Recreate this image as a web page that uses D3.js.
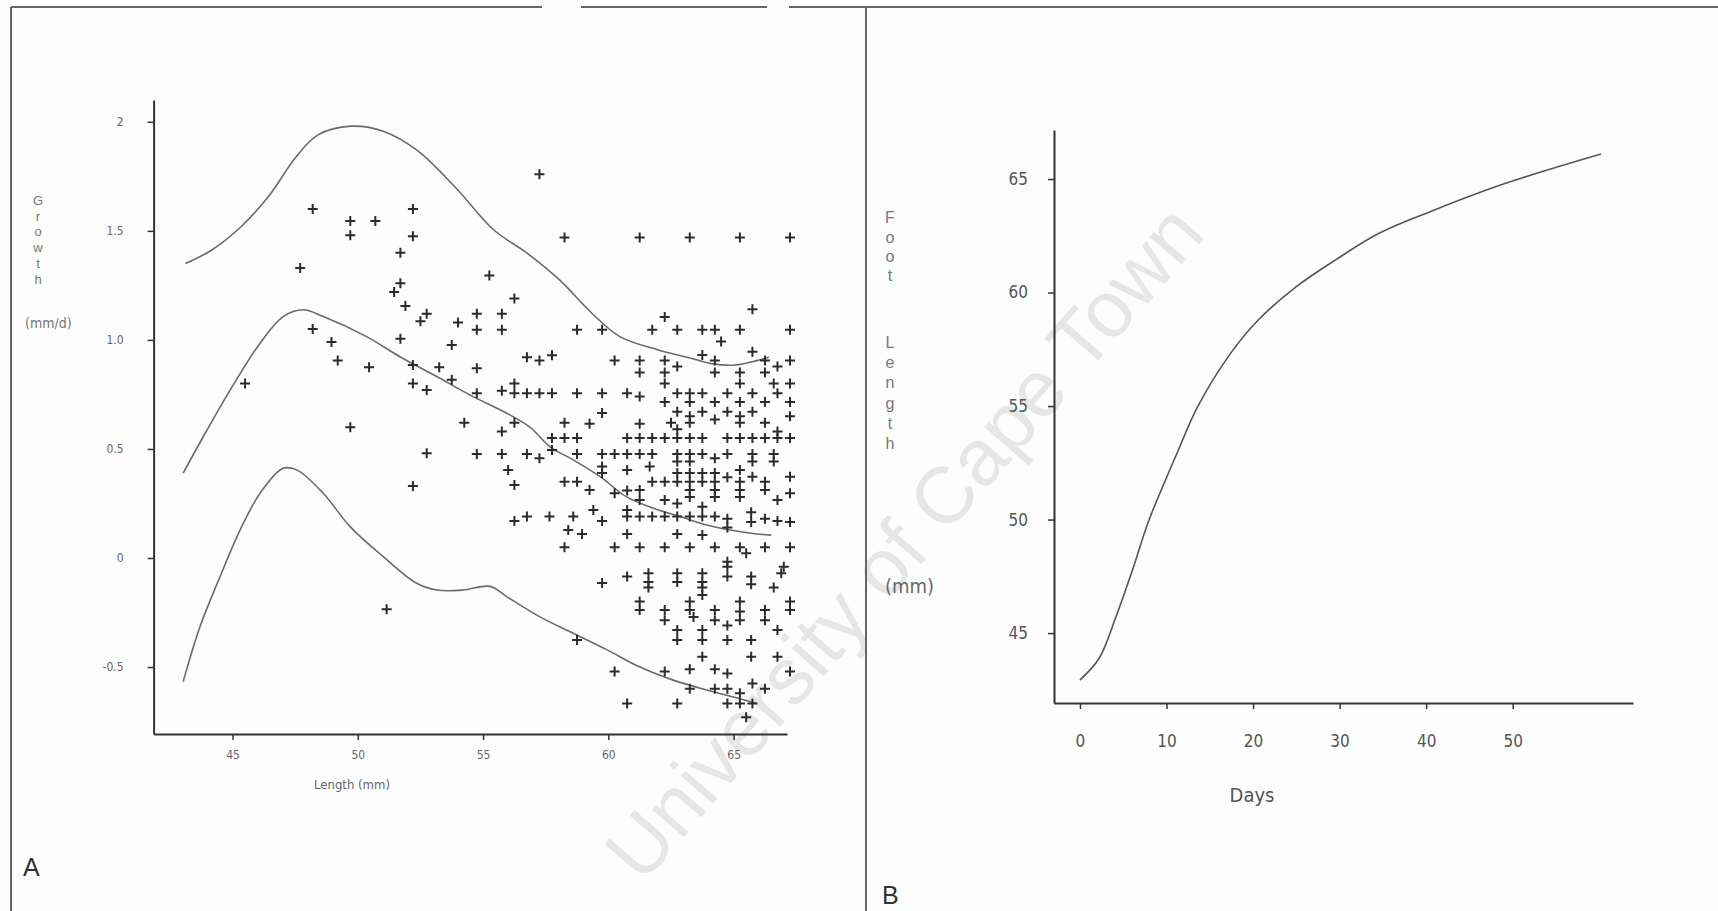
<!DOCTYPE html>
<html>
<head>
<meta charset="utf-8">
<style>
  html, body { margin: 0; background: #fff; }
  svg { display: block; }
</style>
</head>
<body>
<svg></svg>
<script src="https://cdn.jsdelivr.net/npm/d3@7/dist/d3.min.js"></script>
<script>
/* global d3 */
'use strict'

const width = 1718
const height = 911
const narrow = '"Liberation Sans Narrow", "DejaVu Sans Condensed", "Liberation Sans", Arial, sans-serif'

// ---- panel A : growth against length ----
const lengthTicks = [45, 50, 55, 60, 65]
const lengthTickLabels = ['45', '50', '55', '60', '65']
const growthTicks = [2, 1.5, 1.0, 0.5, 0, -0.5]
const growthTickLabels = ['2', '1.5', '1.0', '0.5', '0', '-0.5']

// [length (mm), growth (mm/d)]
const growthPoints = [
  [45.5, 0.80], [47.7, 1.33], [48.2, 1.60], [48.2, 1.05], [48.95, 0.99], [49.2, 0.905],
  [49.7, 1.545], [49.7, 1.48], [49.7, 0.60], [50.7, 1.545], [50.45, 0.875], [51.7, 1.40],
  [51.7, 1.26], [51.45, 1.22], [51.9, 1.155], [51.7, 1.005], [51.15, -0.235], [52.2, 1.60],
  [52.2, 1.475], [52.75, 1.12], [52.5, 1.085], [52.2, 0.885], [52.2, 0.80], [52.75, 0.77],
  [52.75, 0.48], [52.2, 0.33], [53.25, 0.875], [53.75, 0.977], [53.75, 0.817],
  [57.25, 1.76],
  [58.25, 1.47], [61.25, 1.47], [63.25, 1.47], [65.25, 1.47], [67.25, 1.47],
  [55.25, 1.295], [56.25, 1.19], [65.75, 1.14], [54.75, 1.12], [55.75, 1.12], [54.0, 1.08], [62.25, 1.105],
  [54.75, 1.046], [55.75, 1.046], [58.75, 1.046], [59.75, 1.046], [61.75, 1.046], [62.75, 1.046],
  [63.75, 1.046], [64.25, 1.046], [65.25, 1.046], [67.25, 1.046],
  [64.5, 0.993], [65.75, 0.946], [63.75, 0.931],
  [56.75, 0.92], [57.25, 0.905], [57.75, 0.93], [60.25, 0.905],
  [61.25, 0.905], [61.25, 0.85], [62.25, 0.905], [62.25, 0.85], [62.25, 0.80], [62.75, 0.878],
  [64.25, 0.905], [64.25, 0.85], [66.25, 0.905], [66.75, 0.878], [67.25, 0.905],
  [65.25, 0.85], [65.25, 0.80], [66.25, 0.85], [66.6, 0.80], [67.25, 0.80],
  [54.75, 0.87],
  [54.75, 0.755], [55.75, 0.767], [56.25, 0.80], [56.25, 0.755], [56.75, 0.755], [57.25, 0.755],
  [57.75, 0.755], [58.75, 0.755], [59.75, 0.755], [60.75, 0.755], [61.25, 0.74], [62.25, 0.715],
  [62.75, 0.755], [63.25, 0.755], [63.75, 0.755],
  [62.75, 0.67], [63.25, 0.715], [63.25, 0.65], [63.75, 0.67], [64.25, 0.715], [64.75, 0.755],
  [64.75, 0.67], [65.25, 0.715], [65.25, 0.65], [65.75, 0.755], [65.75, 0.67], [66.25, 0.715],
  [66.75, 0.755], [67.25, 0.715], [67.25, 0.65],
  [59.75, 0.665], [54.25, 0.62], [56.25, 0.62], [55.75, 0.58], [58.25, 0.62], [59.25, 0.615],
  [61.25, 0.615], [62.5, 0.62], [62.75, 0.59], [63.25, 0.62], [64.25, 0.635], [65.25, 0.62],
  [66.25, 0.62], [66.75, 0.58],
  [57.75, 0.55], [58.25, 0.55], [58.75, 0.55], [60.75, 0.55], [61.25, 0.55], [61.75, 0.55],
  [62.25, 0.55], [62.75, 0.55], [63.25, 0.55], [63.75, 0.55], [64.75, 0.55], [65.25, 0.55],
  [65.75, 0.55], [66.25, 0.55], [66.75, 0.55], [67.25, 0.55],
  [54.75, 0.477], [55.75, 0.477], [56.75, 0.477], [57.25, 0.457], [57.75, 0.495], [58.75, 0.477],
  [59.75, 0.477], [60.25, 0.477], [60.75, 0.477], [61.25, 0.477], [61.75, 0.477], [62.75, 0.477],
  [63.25, 0.477], [63.75, 0.477], [64.25, 0.457], [64.75, 0.477], [65.75, 0.477], [66.6, 0.477],
  [59.75, 0.42], [59.75, 0.39], [60.75, 0.404], [61.65, 0.42], [62.75, 0.442], [63.25, 0.442],
  [62.75, 0.39], [63.25, 0.39], [63.75, 0.39], [64.25, 0.39], [65.25, 0.404], [65.75, 0.442],
  [66.6, 0.442], [56.0, 0.404], [56.25, 0.335],
  [58.25, 0.35], [58.75, 0.35], [59.25, 0.312], [60.25, 0.297], [60.75, 0.31], [61.25, 0.312],
  [61.75, 0.35], [62.25, 0.35], [62.75, 0.35], [63.25, 0.35], [63.75, 0.35], [64.25, 0.35],
  [64.75, 0.37], [65.25, 0.35], [65.75, 0.372], [66.25, 0.35], [67.25, 0.372], [67.25, 0.297],
  [61.25, 0.266], [62.25, 0.266], [62.75, 0.25], [63.25, 0.312], [63.25, 0.28], [63.75, 0.235],
  [64.25, 0.312], [64.25, 0.28], [65.25, 0.312], [65.25, 0.28], [66.25, 0.312], [66.75, 0.266],
  [56.25, 0.17], [56.75, 0.19], [57.65, 0.19], [58.6, 0.19], [59.4, 0.22], [59.75, 0.17],
  [60.75, 0.19], [60.75, 0.22], [61.25, 0.19], [61.75, 0.19], [62.25, 0.19], [62.75, 0.19],
  [63.25, 0.19], [63.75, 0.19], [64.25, 0.19], [64.75, 0.18], [65.7, 0.21], [66.25, 0.18],
  [66.75, 0.17], [67.25, 0.165],
  [58.4, 0.128], [58.95, 0.11], [60.75, 0.11], [62.75, 0.11], [63.75, 0.105], [64.75, 0.14], [65.7, 0.165],
  [58.25, 0.049], [60.25, 0.049], [61.25, 0.049], [62.25, 0.049], [63.25, 0.049], [64.25, 0.049],
  [65.25, 0.049], [65.5, 0.022], [66.25, 0.049], [67.25, 0.049],
  [64.75, -0.017],
  [59.75, -0.115], [60.75, -0.085], [61.6, -0.07], [61.6, -0.11], [61.6, -0.135], [62.75, -0.07],
  [62.75, -0.11], [63.75, -0.07], [63.75, -0.11], [63.75, -0.135], [63.75, -0.17], [64.75, -0.04],
  [64.75, -0.085], [65.7, -0.085], [65.7, -0.12], [66.6, -0.135], [66.9, -0.07], [67.0, -0.04],
  [61.25, -0.2], [61.25, -0.238], [62.25, -0.238], [62.25, -0.285], [63.25, -0.2], [63.25, -0.238],
  [63.4, -0.27], [64.25, -0.238], [64.25, -0.285], [64.75, -0.31], [65.25, -0.2], [65.25, -0.245],
  [65.25, -0.285], [66.25, -0.238], [66.25, -0.285], [67.25, -0.2], [67.25, -0.238], [66.75, -0.33],
  [62.75, -0.33], [62.75, -0.376], [63.75, -0.33], [63.75, -0.376], [64.75, -0.376], [65.7, -0.376],
  [65.7, -0.453], [66.75, -0.453], [63.75, -0.453],
  [58.75, -0.376],
  [60.25, -0.52], [62.25, -0.52], [63.25, -0.51], [64.25, -0.51], [64.75, -0.53], [67.25, -0.52],
  [63.25, -0.6], [64.25, -0.6], [64.75, -0.6], [65.25, -0.62], [65.75, -0.575], [66.25, -0.6],
  [60.75, -0.667], [62.75, -0.667], [64.75, -0.667], [65.25, -0.667], [65.75, -0.667],
  [65.5, -0.73]
]

// fitted band lines [length, growth]
const upperBand = [
  [43.12, 1.35], [44.14, 1.41], [45.35, 1.52], [46.45, 1.66], [47.54, 1.84], [48.41, 1.94],
  [49.73, 1.98], [51.04, 1.956], [52.36, 1.87], [53.89, 1.70], [55.42, 1.505], [56.73, 1.40],
  [58.05, 1.275], [59.36, 1.12], [60.46, 1.015], [61.99, 0.954], [63.3, 0.916], [64.18, 0.89],
  [65.06, 0.885], [65.93, 0.905], [66.4, 0.92]
]
const middleBand = [
  [43.03, 0.389], [43.83, 0.556], [45.03, 0.794], [46.1, 0.985], [47.02, 1.107], [47.82, 1.138],
  [48.62, 1.107], [50.35, 1.015], [51.68, 0.923], [53.15, 0.832], [54.6, 0.74], [55.94, 0.664],
  [56.87, 0.60], [57.67, 0.51], [58.6, 0.45], [59.67, 0.373], [60.73, 0.28], [61.8, 0.228],
  [62.86, 0.19], [63.93, 0.151], [64.86, 0.128], [65.92, 0.11], [66.5, 0.105]
]
const lowerBand = [
  [43.03, -0.567], [43.7, -0.315], [44.5, -0.086], [45.3, 0.128], [46.1, 0.297], [47.02, 0.411],
  [47.56, 0.404], [48.62, 0.297], [49.69, 0.144], [51.02, 0.006], [52.35, -0.116], [53.15, -0.147],
  [54.2, -0.147], [55.28, -0.13], [55.94, -0.177], [57.27, -0.27], [58.6, -0.345], [59.93, -0.42],
  [61.26, -0.5], [62.59, -0.56], [63.93, -0.605], [65.25, -0.645], [65.92, -0.667]
]

// ---- panel B : foot length against days ----
const dayTicks = [0, 10, 20, 30, 40, 50]
const dayTickLabels = ['0', '10', '20', '30', '40', '50']
const footTicks = [65, 60, 55, 50, 45]
const footTickLabels = ['65', '60', '55', '50', '45']
const curveDays = [0, 2.2, 4.1, 6.0, 7.9, 9.8, 11.3, 13.6, 17.4, 20.6, 25.0, 29.5, 34.5, 40.9, 49.1, 60.2]
const curveFoot = [42.93, 43.88, 45.65, 47.7, 49.9, 51.67, 53.0, 54.97, 57.32, 58.79, 60.26, 61.43, 62.6, 63.63, 64.8, 66.1]

const svg = d3.select('svg')
  .attr('width', width)
  .attr('height', height)
  .attr('font-family', '"Liberation Sans", Arial, sans-serif')

svg.append('rect')
  .attr('width', width)
  .attr('height', height)
  .attr('fill', '#fdfdfd')

// the faint watermark across the scan
svg.append('text')
  .attr('transform', 'translate(904,542) rotate(-49)')
  .attr('text-anchor', 'middle')
  .attr('dominant-baseline', 'central')
  .attr('font-size', 80)
  .attr('fill', '#e6e6e6')
  .text('University of Cape Town')

drawFrame()
drawPanelA()
drawPanelB()

function drawFrame () {
  const frame = svg.append('g')
    .attr('stroke', '#666')
    .attr('stroke-width', 2)
  ;[[11, 542], [581, 767], [789, 1718]].forEach(([a, b]) => {
    frame.append('line').attr('x1', a).attr('x2', b).attr('y1', 7).attr('y2', 7)
  })
  frame.append('line').attr('x1', 11).attr('x2', 11).attr('y1', 7).attr('y2', height)
  frame.append('line').attr('x1', 866).attr('x2', 866).attr('y1', 7).attr('y2', height)
}

function styleAxis (g, size, color) {
  g.select('.domain').attr('stroke', '#333').attr('stroke-width', 2)
  g.selectAll('.tick line').attr('stroke', '#333').attr('stroke-width', 1.5)
  g.selectAll('.tick text')
    .attr('font-family', narrow)
    .attr('font-size', size)
    .attr('fill', color)
}

function stackedLetters (g, letters, x, ys, size) {
  g.selectAll(null)
    .data(letters)
    .enter().append('text')
    .attr('x', x)
    .attr('y', (d, i) => ys[i])
    .attr('text-anchor', 'middle')
    .attr('dominant-baseline', 'central')
    .attr('font-size', size)
    .attr('fill', '#777')
    .text(d => d)
}

function drawPanelA () {
  const x = d3.scaleLinear().domain([41.85, 67.13]).range([153.6, 787])
  const y = d3.scaleLinear().domain([-0.807, 2.1]).range([734, 100])
  const g = svg.append('g')

  g.append('g')
    .attr('transform', `translate(0,${y.range()[0]})`)
    .call(d3.axisBottom(x)
      .tickValues(lengthTicks)
      .tickFormat((d, i) => lengthTickLabels[i])
      .tickSize(6).tickSizeOuter(0).tickPadding(10))
    .call(a => styleAxis(a, 12, '#666'))

  g.append('g')
    .attr('transform', `translate(${x.range()[0]},0)`)
    .call(d3.axisLeft(y)
      .tickValues(growthTicks)
      .tickFormat((d, i) => growthTickLabels[i])
      .tickSize(6).tickSizeOuter(0).tickPadding(24))
    .call(a => styleAxis(a, 12, '#666'))

  const line = d3.line()
    .x(d => x(d[0]))
    .y(d => y(d[1]))
    .curve(d3.curveCatmullRom)

  g.selectAll('path.band')
    .data([upperBand, middleBand, lowerBand])
    .enter().append('path')
    .attr('class', 'band')
    .attr('d', line)
    .attr('fill', 'none')
    .attr('stroke', '#6a6a6a')
    .attr('stroke-width', 1.6)

  g.selectAll('path.pt')
    .data(growthPoints)
    .enter().append('path')
    .attr('class', 'pt')
    .attr('transform', d => `translate(${x(d[0])},${y(d[1])})`)
    .attr('d', 'M-5,0H5M0,-5V5')
    .attr('stroke', '#2b2b2b')
    .attr('stroke-width', 2)

  stackedLetters(g, ['G', 'r', 'o', 'w', 't', 'h'], 38, [200, 216, 231, 247, 263, 279], 13)

  g.append('text')
    .attr('x', 25)
    .attr('y', 323)
    .attr('dominant-baseline', 'central')
    .attr('font-family', narrow)
    .attr('font-size', 14)
    .attr('fill', '#777')
    .text('(mm/d)')

  g.append('text')
    .attr('x', 352)
    .attr('y', 784)
    .attr('text-anchor', 'middle')
    .attr('dominant-baseline', 'central')
    .attr('font-family', narrow)
    .attr('font-size', 13)
    .attr('fill', '#666')
    .text('Length (mm)')

  g.append('text')
    .attr('x', 23)
    .attr('y', 876)
    .attr('font-size', 25)
    .attr('fill', '#333')
    .text('A')
}

function drawPanelB () {
  const x = d3.scaleLinear().domain([-3, 63.9]).range([1054, 1633])
  const y = d3.scaleLinear().domain([41.92, 67.16]).range([703, 130])
  const g = svg.append('g')

  g.append('g')
    .attr('transform', `translate(0,${y.range()[0]})`)
    .call(d3.axisBottom(x)
      .tickValues(dayTicks)
      .tickFormat((d, i) => dayTickLabels[i])
      .tickSize(6).tickSizeOuter(0).tickPadding(26))
    .call(a => styleAxis(a, 17, '#555'))

  g.append('g')
    .attr('transform', `translate(${x.range()[0]},0)`)
    .call(d3.axisLeft(y)
      .tickValues(footTicks)
      .tickFormat((d, i) => footTickLabels[i])
      .tickSize(6).tickSizeOuter(0).tickPadding(20))
    .call(a => styleAxis(a, 17, '#555'))

  const line = d3.line()
    .x(d => x(d[0]))
    .y(d => y(d[1]))
    .curve(d3.curveCatmullRom)

  g.append('path')
    .datum(curveDays.map((d, i) => [d, curveFoot[i]]))
    .attr('d', line)
    .attr('fill', 'none')
    .attr('stroke', '#555')
    .attr('stroke-width', 1.6)

  stackedLetters(g, ['F', 'o', 'o', 't', 'L', 'e', 'n', 'g', 't', 'h'], 890,
    [217, 237, 256, 275, 342, 362, 382, 403, 423, 443], 16)

  g.append('text')
    .attr('x', 885)
    .attr('y', 586)
    .attr('dominant-baseline', 'central')
    .attr('font-family', narrow)
    .attr('font-size', 20)
    .attr('fill', '#666')
    .text('(mm)')

  g.append('text')
    .attr('x', 1252)
    .attr('y', 795)
    .attr('text-anchor', 'middle')
    .attr('dominant-baseline', 'central')
    .attr('font-family', narrow)
    .attr('font-size', 20)
    .attr('fill', '#555')
    .text('Days')

  g.append('text')
    .attr('x', 882)
    .attr('y', 904)
    .attr('font-size', 25)
    .attr('fill', '#333')
    .text('B')
}
</script>
</body>
</html>
